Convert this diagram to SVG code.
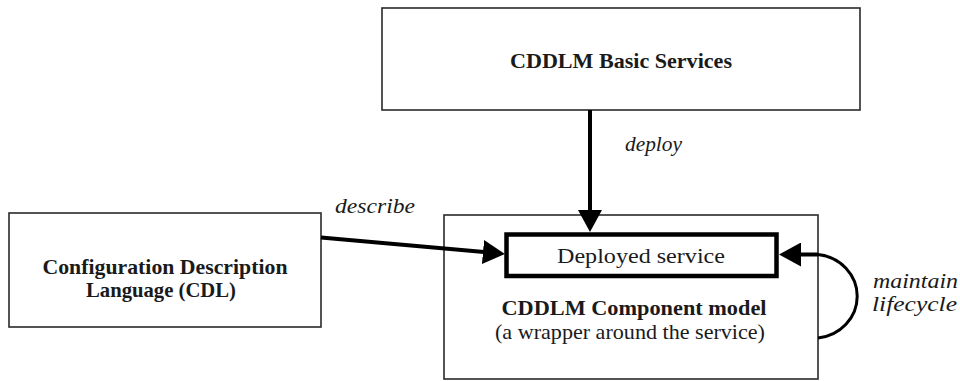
<svg xmlns="http://www.w3.org/2000/svg" width="960" height="381" viewBox="0 0 960 381" font-family="Liberation Serif, DejaVu Serif, serif">
  <style>
    .box { fill: #ffffff; stroke: #2a2a2a; stroke-width: 1.6; }
    .inner { fill: #ffffff; stroke: #000000; stroke-width: 4.5; }
    .edge { fill: none; stroke: #000000; stroke-width: 4; }
    .loop { fill: none; stroke: #000000; stroke-width: 3; }
    .title { font-weight: bold; font-size: 21px; fill: #1a1a1a; }
    .plain { font-size: 21px; fill: #1a1a1a; }
    .label { font-style: italic; font-size: 21px; fill: #1a1a1a; }
  </style>
  <defs>
    <marker id="head" viewBox="0 0 22 24" refX="1" refY="12" markerWidth="22" markerHeight="24" markerUnits="userSpaceOnUse" orient="auto">
      <path d="M0,0 L22,12 L0,24 z" fill="#000000"/>
    </marker>
  </defs>

  <rect width="960" height="381" fill="#ffffff"/>

  <!-- basic services -->
  <g id="basic-services">
    <rect class="box" x="382" y="8" width="478" height="102"/>
    <text class="title" font-family="Liberation Serif, serif" x="621" y="68" text-anchor="middle" textLength="222" lengthAdjust="spacingAndGlyphs">CDDLM Basic Services</text>
  </g>

  <!-- configuration description language -->
  <g id="cdl">
    <rect class="box" x="9" y="213" width="312" height="114"/>
    <text class="title" font-family="Liberation Serif, serif" x="165" y="274" text-anchor="middle" textLength="245" lengthAdjust="spacingAndGlyphs">Configuration Description</text>
    <text class="title" font-family="Liberation Serif, serif" x="161" y="297" text-anchor="middle" textLength="150" lengthAdjust="spacingAndGlyphs">Language (CDL)</text>
  </g>

  <!-- component model wrapping the deployed service -->
  <g id="component-model">
    <rect class="box" x="444" y="215" width="374" height="164"/>
    <text class="title" font-family="Liberation Serif, serif" x="634" y="315" text-anchor="middle" textLength="265" lengthAdjust="spacingAndGlyphs">CDDLM Component model</text>
    <text class="plain" font-family="Liberation Serif, serif" x="630" y="339" text-anchor="middle" font-size="20" textLength="270" lengthAdjust="spacingAndGlyphs">(a wrapper around the service)</text>
  </g>

  <g id="deployed-service">
    <rect class="inner" x="506.5" y="234.5" width="270" height="41.5"/>
    <text class="plain" font-family="Liberation Serif, serif" x="641" y="263" text-anchor="middle" font-size="24" textLength="168" lengthAdjust="spacingAndGlyphs">Deployed service</text>
  </g>

  <!-- connectors -->
  <g id="connectors">
    <path class="edge" d="M590,110 L590,211" marker-end="url(#head)"/>
    <path class="edge" d="M321,237.5 L484,252.1" marker-end="url(#head)"/>
    <path class="loop" d="M818,254.5 A44,42 0 0 1 818,338"/>
    <path class="edge" d="M818,254.5 L800,254.5" marker-end="url(#head)"/>
    <text class="label" font-family="Liberation Serif, serif" x="625" y="151" textLength="57" lengthAdjust="spacingAndGlyphs">deploy</text>
    <text class="label" font-family="Liberation Serif, serif" x="335" y="213" textLength="80" lengthAdjust="spacingAndGlyphs">describe</text>
    <text class="label" font-family="Liberation Serif, serif" x="873" y="288" textLength="85" lengthAdjust="spacingAndGlyphs">maintain</text>
    <text class="label" font-family="Liberation Serif, serif" x="872" y="311" textLength="85" lengthAdjust="spacingAndGlyphs">lifecycle</text>
  </g>
</svg>
